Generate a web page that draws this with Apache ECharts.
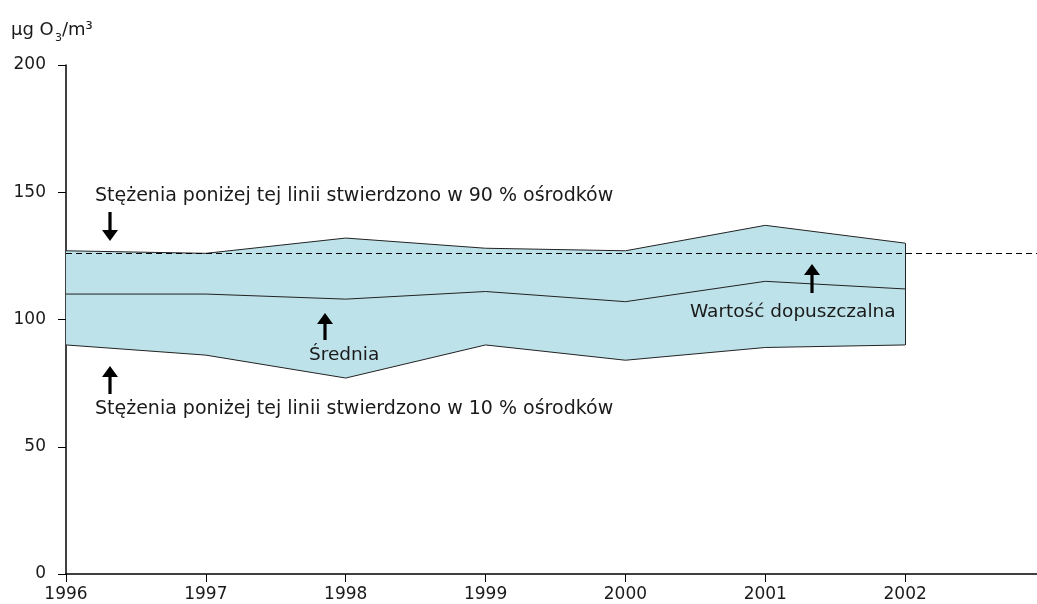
<!DOCTYPE html>
<html>
<head>
<meta charset="utf-8">
<script src="https://cdn.jsdelivr.net/npm/echarts@6/dist/echarts.min.js"></script>
<style>
  html, body { margin: 0; padding: 0; background: #fff; }
  #chart { width: 1037px; height: 604px; }
</style>
</head>
<body>
<div id="chart"></div>
<script>
// data
var years = ['1996', '1997', '1998', '1999', '2000', '2001', '2002']
var upper = [127, 126, 132, 128, 127, 137, 130]   // 90 % stations
var mean = [110, 110, 108, 111, 107, 115, 112]
var lower = [90, 86, 77, 90, 84, 89, 90]          // 10 % stations
var limitValue = 126
var yTicks = [0, 50, 100, 150, 200]

var FONT = '"DejaVu Sans", Verdana, sans-serif'
var fill = '#bde2e9'
var lineCol = '#222'

// up / down arrow polygon (annotation only)
function arrow (x, yTip, yTail) {
  var dir = yTail > yTip ? 1 : -1
  var hb = yTip + dir * 11
  return {
    type: 'polygon',
    z: 100,
    shape: {
      points: [[x, yTip], [x + 8, hb], [x + 1.6, hb], [x + 1.6, yTail],
        [x - 1.6, yTail], [x - 1.6, hb], [x - 8, hb]]
    },
    style: { fill: '#000' }
  }
}

function label (text, x, y, size) {
  return {
    type: 'text',
    z: 100,
    x: x,
    y: y,
    style: {
      text: text,
      fill: '#1a1a1a',
      font: size + 'px ' + FONT,
      verticalAlign: 'middle'
    }
  }
}

var chart = echarts.init(document.getElementById('chart'))
chart.setOption({
  animation: false,
  grid: { left: 66, top: 65, bottom: 30, width: 979, outerBoundsMode: 'none' },
  xAxis: {
    type: 'category',
    boundaryGap: false,
    data: years.concat(['']),   // empty slot so the axis runs on past 2002
    axisLine: { show: true, lineStyle: { color: '#000', width: 1.5 } },
    axisTick: { show: true, length: 8, lineStyle: { color: '#000' } },
    axisLabel: { color: '#1a1a1a', fontSize: 17, fontFamily: FONT, margin: 12 },
    splitLine: { show: false }
  },
  yAxis: {
    type: 'value',
    min: yTicks[0],
    max: yTicks[yTicks.length - 1],
    interval: 50,
    axisLine: { show: true, lineStyle: { color: '#000', width: 1.5 } },
    axisTick: { show: true, length: 8, lineStyle: { color: '#000' } },
    axisLabel: { color: '#1a1a1a', fontSize: 17, fontFamily: FONT, margin: 20 },
    splitLine: { show: false }
  },
  series: [
    {
      type: 'line',
      stack: 'band',
      data: lower,
      symbol: 'none',
      lineStyle: { width: 0 },
      areaStyle: { color: 'rgba(0,0,0,0)' }
    },
    {
      type: 'line',
      stack: 'band',
      data: upper.map(function (u, i) { return u - lower[i] }),
      symbol: 'none',
      lineStyle: { width: 0 },
      areaStyle: { color: fill, opacity: 1 }
    },
    {
      type: 'line',
      data: upper,
      symbol: 'none',
      lineStyle: { color: lineCol, width: 1 }
    },
    {
      type: 'line',
      data: mean,
      symbol: 'none',
      lineStyle: { color: lineCol, width: 1 },
      markLine: {
        silent: true,
        symbol: 'none',
        label: { show: false },
        lineStyle: { color: '#000', width: 1, type: [6, 4] },
        data: [{ yAxis: limitValue }]
      }
    },
    {
      type: 'line',
      data: lower,
      symbol: 'none',
      lineStyle: { color: lineCol, width: 1 },
      markLine: {
        // right edge of the band
        silent: true,
        symbol: 'none',
        label: { show: false },
        lineStyle: { color: lineCol, width: 1, type: 'solid' },
        data: [[
          { coord: [years[6], lower[6]] },
          { coord: [years[6], upper[6]] }
        ]]
      }
    }
  ],
  graphic: [
    { type: 'text', z: 100, x: 11, y: 30, style: { text: 'µg O', fill: '#1a1a1a', font: '18px ' + FONT, verticalAlign: 'middle' } },
    { type: 'text', z: 100, x: 55, y: 38, style: { text: '3', fill: '#1a1a1a', font: '11px ' + FONT, verticalAlign: 'middle' } },
    { type: 'text', z: 100, x: 62, y: 30, style: { text: '/m³', fill: '#1a1a1a', font: '18px ' + FONT, verticalAlign: 'middle' } },
    label('Stężenia poniżej tej linii stwierdzono w 90 % ośrodków', 95, 196, 19),
    label('Stężenia poniżej tej linii stwierdzono w 10 % ośrodków', 95, 409, 19),
    label('Średnia', 309, 355, 18.5),
    label('Wartość dopuszczalna', 690, 312, 18.5),
    arrow(110, 241, 212),
    arrow(325, 313, 340),
    arrow(110, 366, 394),
    arrow(812, 264, 293)
  ]
})
</script>
</body>
</html>
